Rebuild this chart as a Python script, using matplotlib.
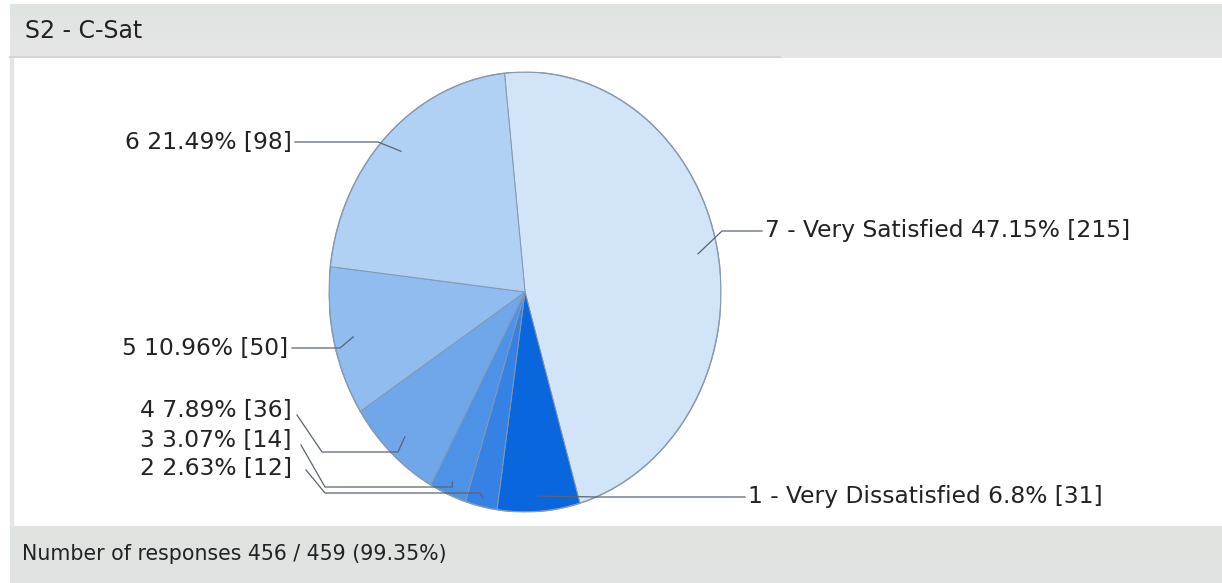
import numpy as np
import matplotlib.pyplot as plt
from matplotlib.colors import to_rgb
from matplotlib.patches import Rectangle, Circle

# slices in drawing order, clockwise from the top
labels = ["7 - Very Satisfied", "1 - Very Dissatisfied", "2", "3", "4", "5", "6"]
counts = [215, 31, 12, 14, 36, 50, 98]
percents = [47.15, 6.8, 2.63, 3.07, 7.89, 10.96, 21.49]
colors = ["#d2e4f8", "#0a66dc", "#3581e4", "#4d92e7", "#70a7ea", "#90bcef", "#b1d1f4"]

title = "S2 - C-Sat"
footer = "Number of responses 456 / 459 (99.35%)"

W, H = 1222, 583
fig = plt.figure(figsize=(W / 100, H / 100), dpi=100)

# background axes in pixel units for the panel bars
bg = fig.add_axes([0, 0, 1, 1])
bg.axis("off")

def bar(y0, y1, top, bottom):
    # horizontal bar with a soft vertical gradient
    grad = np.linspace(0, 1, 64)[:, None, None]
    c0 = np.array(to_rgb(top))
    c1 = np.array(to_rgb(bottom))
    img = np.repeat(c0 + (c1 - c0) * grad, 2, axis=1)
    bg.imshow(img, extent=(10, W, y1, y0), aspect="auto", zorder=1)

bar(4, 58, "#dfe4e1", "#e6e6e6")
bar(526, H, "#dee3e0", "#e1e4e2")
bg.add_patch(Rectangle((10, 58), 3, 468, color="#e4e6e5", zorder=1))
bg.plot([10, 780], [57, 57], color="#d4d6d5", lw=1.5, zorder=2)
bg.set_xlim(0, W)
bg.set_ylim(H, 0)

# pie drawn as an ellipse: the axes is taller than wide, aspect left free
cx, cy, rx, ry = 525, 292, 196, 220
pax = fig.add_axes([(cx - rx) / W, 1 - (cy + ry) / H, 2 * rx / W, 2 * ry / H])
start = 96
wedges, _ = pax.pie(counts, colors=colors, startangle=start, counterclock=False,
                    wedgeprops=dict(edgecolor="#8297b2", linewidth=0.7))
pax.set_aspect("auto")
pax.set_xlim(-1, 1)
pax.set_ylim(-1, 1)
pax.axis("off")
pax.add_patch(Circle((0, 0), 1, fill=False, edgecolor="#8a9aad", lw=1.0))

# overlay axes for texts and leader lines, on top of the pie
ov = fig.add_axes([0, 0, 1, 1])
ov.patch.set_alpha(0)
ov.axis("off")
ov.set_xlim(0, W)
ov.set_ylim(H, 0)

font = {"family": "DejaVu Sans", "color": "#222222"}
ov.text(25, 31, title, fontsize=17, va="center", ha="left", **font)
ov.text(22, 554, footer, fontsize=14.8, va="center", ha="left", **font)

# label position, side, leader elbows (pixels) and anchor radius
layout = [
    (765, 231, "left", [(722, 231)], 0.9),
    (748, 497, "left", [(600, 497)], 0.93),
    (292, 468, "right", [(306, 470), (325, 493), (480, 493)], 0.96),
    (292, 441, "right", [(301, 445), (325, 487), (452, 487)], 0.94),
    (292, 410, "right", [(297, 415), (322, 452), (398, 452)], 0.9),
    (288, 348, "right", [(292, 348), (340, 348)], 0.9),
    (292, 142, "right", [(295, 142), (378, 142)], 0.9),
]

total = sum(counts)
cum = 0
for lab, n, pct, (lx, ly, side, elbows, r) in zip(labels, counts, percents, layout):
    mid = start - (cum + n / 2) / total * 360
    cum += n
    ang = np.radians(mid)
    xs = [p[0] for p in elbows] + [cx + rx * r * np.cos(ang)]
    ys = [p[1] for p in elbows] + [cy - ry * r * np.sin(ang)]
    if side == "left":
        xs = [lx - 3] + xs
        ys = [ly] + ys
    ov.plot(xs, ys, color="#5a6470", lw=0.9)
    txt = f"{lab} {pct:g}% [{n}]"
    ov.text(lx, ly, txt, fontsize=16.8, va="center", ha=side, **font)

fig.savefig("out.png", dpi=100)
